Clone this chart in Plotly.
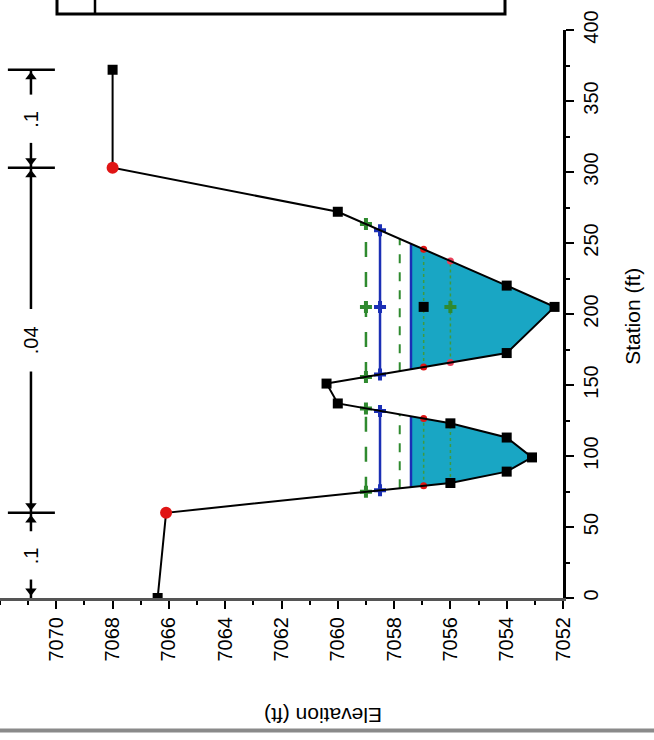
import plotly.graph_objects as go

# ---------------- data ----------------
ground_sta = [0, 60, 81, 89, 99, 113, 123, 137, 151, 172.5, 205, 220, 272, 303, 372]
ground_elev = [7066.4, 7066.1, 7056.0, 7054.0, 7053.1, 7054.0, 7056.0, 7060.0, 7060.4,
               7054.0, 7052.3, 7054.0, 7060.0, 7068.0, 7068.0]
bank_sta = [60, 303]

ws_elev = [7059.0, 7058.5, 7057.8, 7057.4, 7056.95, 7056.0]
ws_color = ["#2f8a2f", "#1b2fb5", "#2f8a2f", "#1b2fb5", "#3f9a3f", "#3f9a3f"]
ws_dash = ["longdash", "solid", "dash", "solid", "dot", "dot"]
ws_width = [2.5, 2.5, 2, 2.5, 1.5, 1.5]
ws_end_marker = [("cross", "#2f8a2f"), ("cross", "#1b2fb5"), None, None,
                 ("circle", "#e01515"), ("circle", "#e8405a")]
ws_mid_marker = [("cross", "#2f8a2f"), ("cross", "#1b2fb5"), None, None,
                 ("square", "#000000"), ("cross", "#2f8a2f")]
fill_ws_index = 3

n_break_sta = [0, 60, 303, 372]
n_values = [".1", ".04", ".1"]

elev_ticks = [7052, 7054, 7056, 7058, 7060, 7062, 7064, 7066, 7068, 7070]
sta_ticks = [0, 50, 100, 150, 200, 250, 300, 350, 400]

# ---------------- helpers ----------------
def wet_spans(sta, elev, ws):
    spans, start = [], None
    for i in range(len(sta) - 1):
        s0, s1, e0, e1 = sta[i], sta[i + 1], elev[i], elev[i + 1]
        if e0 >= ws > e1:
            start = s0 + (e0 - ws) / (e0 - e1) * (s1 - s0)
        elif e0 < ws <= e1 and start is not None:
            end = s0 + (ws - e0) / (e1 - e0) * (s1 - s0)
            spans.append((start, end))
            start = None
    return spans

thalweg_sta = ground_sta[ground_elev.index(min(ground_elev))]

fig = go.Figure()

# teal water fill
ws = ws_elev[fill_ws_index]
fx, fy = [], []
for a, b in wet_spans(ground_sta, ground_elev, ws):
    fx.append(ws); fy.append(a)
    for s, e in zip(ground_sta, ground_elev):
        if a < s < b:
            fx.append(e); fy.append(s)
    fx.append(ws); fy.append(b)
    fx.append(None); fy.append(None)
fig.add_trace(go.Scatter(x=fx, y=fy, mode="lines", fill="toself",
                         fillcolor="#19a6c4", line=dict(width=0),
                         hoverinfo="skip", showlegend=False))

# water surface lines
for i, w in enumerate(ws_elev):
    spans = wet_spans(ground_sta, ground_elev, w)
    lx, ly = [], []
    for a, b in spans:
        lx += [w, w, None]; ly += [a, b, None]
    fig.add_trace(go.Scatter(x=lx, y=ly, mode="lines",
                             line=dict(color=ws_color[i], width=ws_width[i], dash=ws_dash[i]),
                             showlegend=False, hoverinfo="skip"))
    if ws_end_marker[i]:
        sym, col = ws_end_marker[i]
        mx = [w for sp in spans for _ in sp]
        my = [s for sp in spans for s in sp]
        fig.add_trace(go.Scatter(x=mx, y=my, mode="markers",
                                 marker=dict(symbol=sym, color=col, size=10 if sym != "circle" else 7,
                                             line=dict(width=0)),
                                 showlegend=False, hoverinfo="skip"))
    if ws_mid_marker[i]:
        sym, col = ws_mid_marker[i]
        fig.add_trace(go.Scatter(x=[w], y=[thalweg_sta], mode="markers",
                                 marker=dict(symbol=sym, color=col, size=10, line=dict(width=0)),
                                 showlegend=False, hoverinfo="skip"))

# ground
fig.add_trace(go.Scatter(x=ground_elev, y=ground_sta, mode="lines",
                         line=dict(color="black", width=2), showlegend=False, hoverinfo="skip"))
gx = [e for s, e in zip(ground_sta, ground_elev) if s not in bank_sta]
gy = [s for s in ground_sta if s not in bank_sta]
fig.add_trace(go.Scatter(x=gx, y=gy, mode="markers",
                         marker=dict(symbol="square", color="black", size=10),
                         showlegend=False, hoverinfo="skip"))
bx = [ground_elev[ground_sta.index(s)] for s in bank_sta]
fig.add_trace(go.Scatter(x=bx, y=bank_sta, mode="markers",
                         marker=dict(symbol="circle", color="#e01515", size=12),
                         showlegend=False, hoverinfo="skip"))

# Manning's n annotation along the top of the (original) plot
N_X = 7070.9
BAR_X0, BAR_X1 = 7071.72, 7070.05
nx, ny = [], []
for k in range(len(n_values)):
    a, b = n_break_sta[k], n_break_sta[k + 1]
    m = (a + b) / 2
    g = 7 + 5 * len(n_values[k])
    nx += [N_X, N_X, None, N_X, N_X, None]
    ny += [a, m - g, None, m + g, b, None]
    fig.add_annotation(x=N_X, y=m, text=n_values[k], showarrow=False, textangle=-90,
                       xanchor="center", yanchor="middle",
                       font=dict(family="Liberation Sans", size=20, color="black"))
fig.add_trace(go.Scatter(x=nx, y=ny, mode="lines", line=dict(color="black", width=2.5),
                         showlegend=False, hoverinfo="skip"))
for s in n_break_sta[1:]:
    fig.add_trace(go.Scatter(x=[BAR_X0, BAR_X1], y=[s, s], mode="lines",
                             line=dict(color="black", width=2.5), showlegend=False, hoverinfo="skip"))
ax, ay, asym = [], [], []
for k in range(len(n_values)):
    a, b = n_break_sta[k], n_break_sta[k + 1]
    ax += [N_X, N_X]; ay += [a + 5, b - 5]; asym += ["triangle-down", "triangle-up"]
fig.add_trace(go.Scatter(x=ax, y=ay, mode="markers",
                         marker=dict(symbol=asym, color="black", size=10),
                         showlegend=False, hoverinfo="skip"))

W, H = 654, 740
L, R, T, B = 0, 91, 30, 141.5
pw, ph = W - L - R, H - T - B

fig.update_layout(
    width=W, height=H,
    margin=dict(l=L, r=R, t=T, b=B, pad=0),
    paper_bgcolor="white", plot_bgcolor="white",
    font=dict(family="Liberation Sans", color="black"),
    xaxis=dict(range=[7072, 7052], tickvals=elev_ticks, ticktext=[str(v) for v in elev_ticks],
               tickangle=-90, ticks="outside", ticklen=8, tickwidth=2, tickcolor="black",
               minor=dict(dtick=1, ticks="outside", ticklen=4, tickwidth=1.5, tickcolor="black"),
               showline=True, linecolor="#555555", linewidth=3, showgrid=False, zeroline=False,
               tickfont=dict(size=20, color="black")),
    yaxis=dict(range=[0, 400], tickvals=sta_ticks, side="right",
               tickangle=-90, ticks="outside", ticklen=8, tickwidth=2, tickcolor="black",
               minor=dict(dtick=25, ticks="outside", ticklen=4, tickwidth=1.5, tickcolor="black"),
               showline=True, linecolor="black", linewidth=2.5, showgrid=False, zeroline=False,
               tickfont=dict(size=20, color="black")),
)

# axis titles (rotated like the scanned page)
fig.add_annotation(xref="paper", yref="paper", x=323 / pw, y=(T + ph - 716) / ph,
                   xanchor="center", yanchor="middle",
                   text="Elevation (ft)", showarrow=False, textangle=180,
                   font=dict(size=21, color="black"))
fig.add_annotation(xref="paper", yref="paper", x=633 / pw, y=(T + ph - 317) / ph,
                   xanchor="center", yanchor="middle",
                   text="Station (ft)", showarrow=False, textangle=-90,
                   font=dict(size=21, color="black"))

# partly visible legend box at the top and page rule at the bottom
fig.add_shape(type="rect", xref="paper", yref="paper",
              x0=57 / pw, x1=505 / pw, y0=(T + ph - 14) / ph, y1=(T + ph + 40) / ph,
              line=dict(color="black", width=3))
fig.add_shape(type="line", xref="paper", yref="paper",
              x0=95 / pw, x1=95 / pw, y0=(T + ph - 14) / ph, y1=(T + ph + 40) / ph,
              line=dict(color="black", width=2.5))
fig.add_shape(type="line", xref="paper", yref="paper",
              x0=0, x1=W / pw, y0=(T + ph - 731) / ph, y1=(T + ph - 731) / ph,
              line=dict(color="#8a8a8a", width=4))

fig.write_html("out.html", config={"displayModeBar": False},
               post_script="document.body.style.margin='0px';")
